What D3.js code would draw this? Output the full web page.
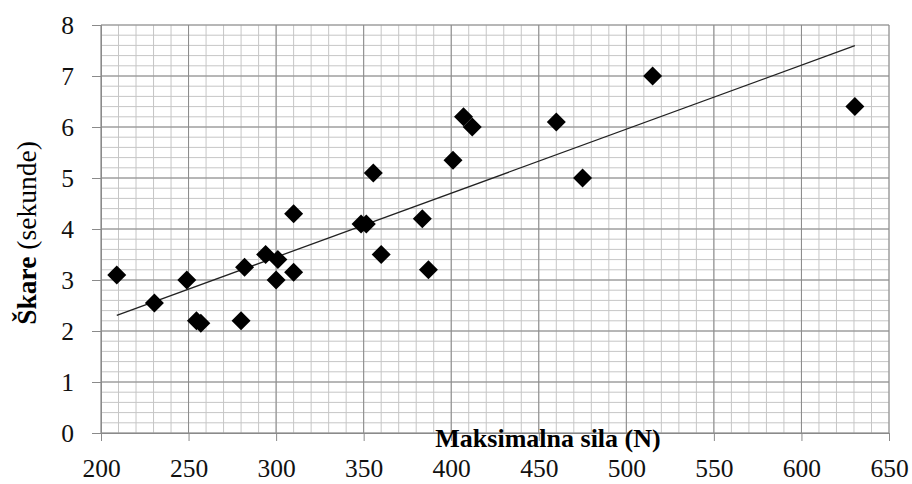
<!DOCTYPE html>
<html>
<head>
<meta charset="utf-8">
<script src="https://cdn.jsdelivr.net/npm/d3@7"></script>
<style>
  body { margin: 0; background: #fff; }
  svg text { font-family: "Liberation Serif", "Times New Roman", serif; }
</style>
</head>
<body>
<div id="chart"></div>
<script>
// data
var forceN = [209, 230.5, 249, 254.5, 257, 280, 282, 294, 300, 301, 310, 310,
              348.5, 351.5, 355.5, 360, 383.5, 387, 401, 407, 412, 460, 475, 515, 630.5];
var scissorsSec = [3.1, 2.55, 3.0, 2.2, 2.15, 2.2, 3.25, 3.5, 3.0, 3.4, 4.3, 3.15,
                   4.1, 4.1, 5.1, 3.5, 4.2, 3.2, 5.35, 6.2, 6.0, 6.1, 5.0, 7.0, 6.4];
var xTicks = [200, 250, 300, 350, 400, 450, 500, 550, 600, 650];
var yTicks = [0, 1, 2, 3, 4, 5, 6, 7, 8];

const W = 912, H = 484;
const margin = {left: 101, right: 23, top: 25, bottom: 51};

var svg = d3.select('#chart').append('svg')
            .attr('width', W)
            .attr('height', H);

var x = d3.scaleLinear().domain([200, 650]).range([margin.left, W - margin.right]);
var y = d3.scaleLinear().domain([0, 8]).range([H - margin.bottom, margin.top]);

// minor grid (every 10 N, every 0.2 s)
var xMinor = d3.range(200, 651, 10);
var yMinor = d3.range(0, 40.1, 1).map(d => d / 5);

svg.append('g').selectAll('line').data(xMinor).enter().append('line')
   .attr('x1', d => x(d)).attr('x2', d => x(d))
   .attr('y1', y(0)).attr('y2', y(8))
   .attr('stroke', '#c6c6c6').attr('stroke-width', 1);

svg.append('g').selectAll('line').data(yMinor).enter().append('line')
   .attr('x1', x(200)).attr('x2', x(650))
   .attr('y1', d => y(d)).attr('y2', d => y(d))
   .attr('stroke', '#c6c6c6').attr('stroke-width', 1);

// major grid
svg.append('g').selectAll('line').data(xTicks).enter().append('line')
   .attr('x1', d => x(d)).attr('x2', d => x(d))
   .attr('y1', y(0)).attr('y2', y(8))
   .attr('stroke', '#8a8a8a').attr('stroke-width', 1);

svg.append('g').selectAll('line').data(yTicks).enter().append('line')
   .attr('x1', x(200)).attr('x2', x(650))
   .attr('y1', d => y(d)).attr('y2', d => y(d))
   .attr('stroke', '#8a8a8a').attr('stroke-width', 1);

// axes
var xAxis = svg.append('g')
   .attr('transform', 'translate(0,' + y(0) + ')')
   .call(d3.axisBottom(x).tickValues(xTicks).tickSize(8).tickPadding(18));
var yAxis = svg.append('g')
   .attr('transform', 'translate(' + x(200) + ',0)')
   .call(d3.axisLeft(y).tickValues(yTicks).tickSize(9).tickPadding(18));

[xAxis, yAxis].forEach(function (a) {
  a.select('.domain').attr('stroke', '#8a8a8a');
  a.selectAll('.tick line').attr('stroke', '#8a8a8a');
  a.selectAll('text').attr('font-size', 25.5).attr('fill', '#111')
   .attr('font-family', '"Liberation Serif", serif');
});
yAxis.selectAll('text').attr('dy', '0.34em');

// trend line (least squares)
var mx = d3.mean(forceN), my = d3.mean(scissorsSec);
var sxy = d3.sum(forceN, (d, i) => (d - mx) * (scissorsSec[i] - my));
var sxx = d3.sum(forceN, d => (d - mx) * (d - mx));
var slope = sxy / sxx, intercept = my - slope * mx;
var xr = d3.extent(forceN);

svg.append('line')
   .attr('x1', x(xr[0])).attr('y1', y(intercept + slope * xr[0]))
   .attr('x2', x(xr[1])).attr('y2', y(intercept + slope * xr[1]))
   .attr('stroke', '#222').attr('stroke-width', 1.3);

// points
var pts = forceN.map((d, i) => ({x: d, y: scissorsSec[i]}));
svg.append('g').selectAll('path').data(pts).enter().append('path')
   .attr('transform', d => 'translate(' + x(d.x) + ',' + y(d.y) + ')')
   .attr('d', 'M0,-9.5L9.5,0L0,9.5L-9.5,0Z')
   .attr('fill', '#000');

// axis titles
svg.append('text')
   .attr('x', 548).attr('y', 447)
   .attr('text-anchor', 'middle')
   .attr('font-size', 26).attr('font-weight', 'bold')
   .text('Maksimalna sila (N)');

var yt = svg.append('text')
   .attr('transform', 'translate(36,233) rotate(-90)')
   .attr('text-anchor', 'middle')
   .attr('font-size', 27.5);
yt.append('tspan').attr('font-weight', 'bold').text('Škare');
yt.append('tspan').text(' (sekunde)');
</script>
</body>
</html>
